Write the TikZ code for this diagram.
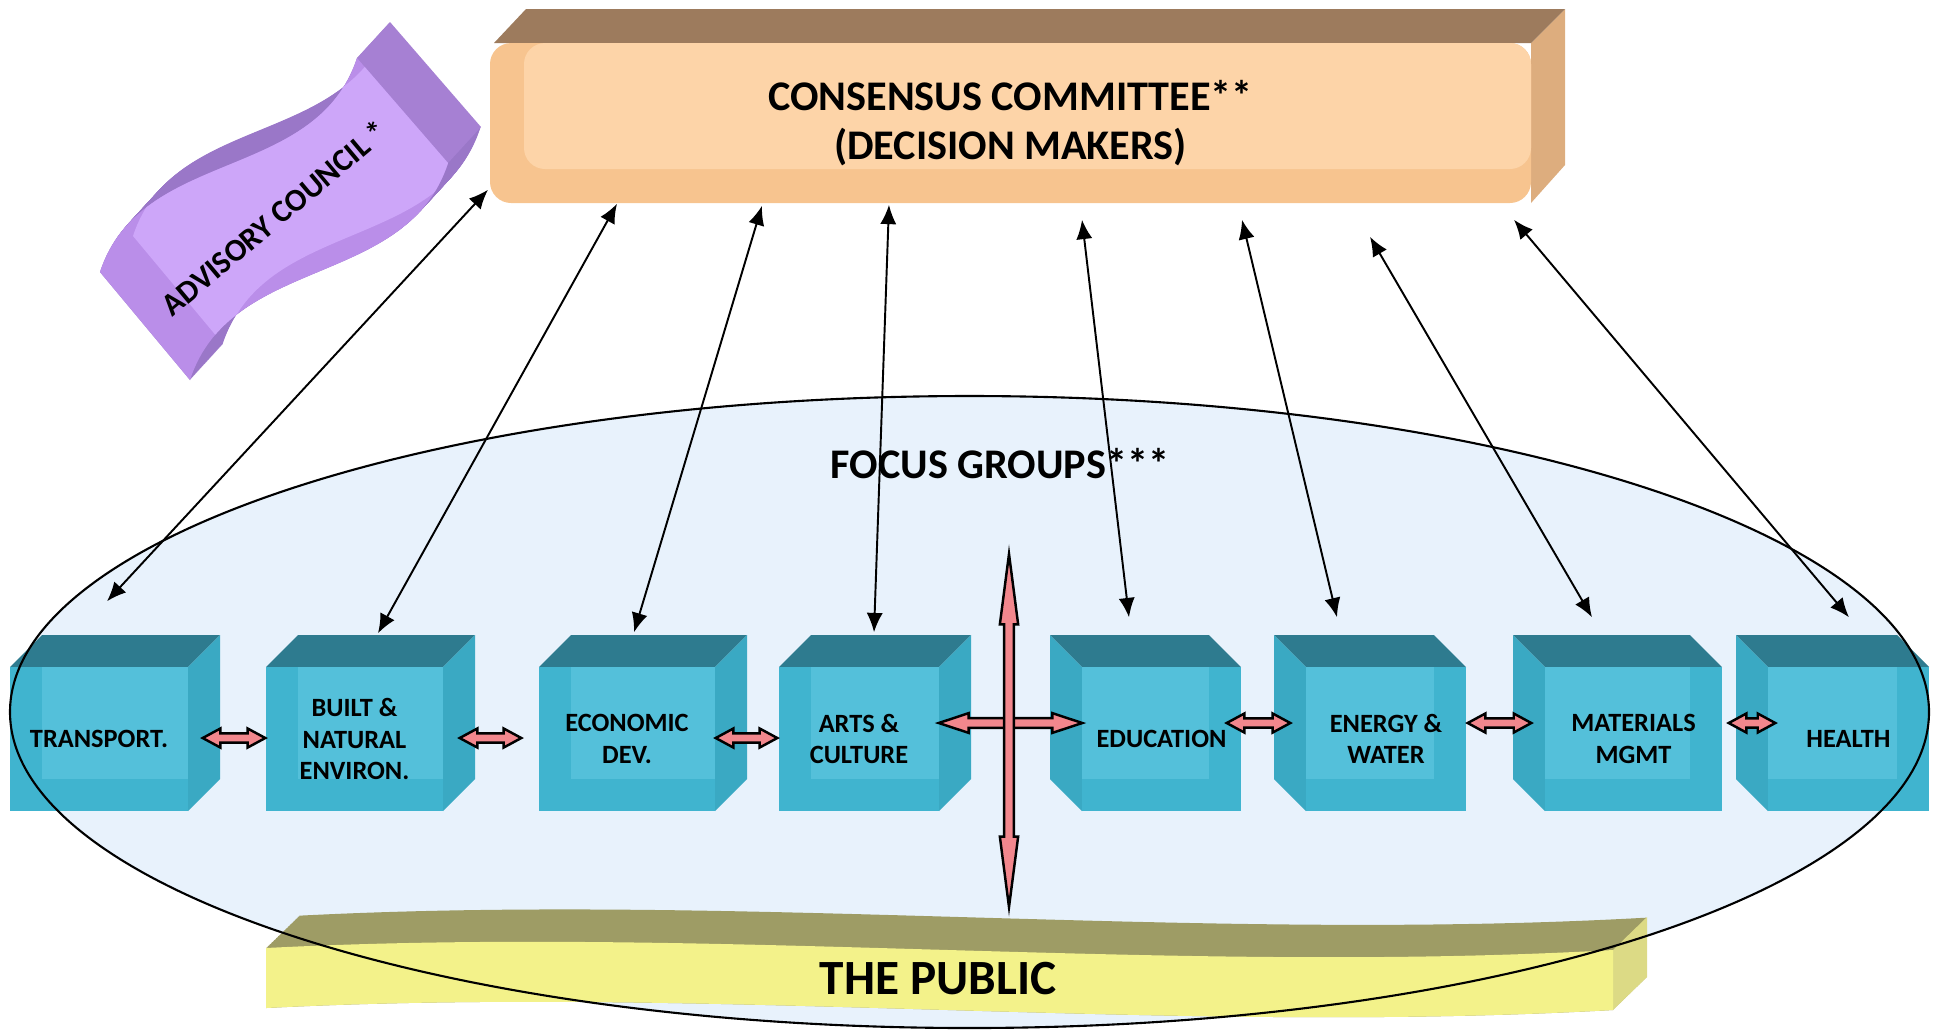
\documentclass[tikz,border=0pt]{standalone}
\usepackage{fontspec}
\setmainfont{Carlito}
\usetikzlibrary{arrows.meta}
\usetikzlibrary{calc}

\definecolor{focusblue}{HTML}{E8F2FC}
\definecolor{cctop}{HTML}{9D7B5D}
\definecolor{ccside}{HTML}{DDAD7E}
\definecolor{ccfront}{HTML}{F7C48F}
\definecolor{cclight}{HTML}{FDD4A8}
\definecolor{advside}{HTML}{9A77C8}
\definecolor{advend}{HTML}{A680D3}
\definecolor{advfront}{HTML}{BA8EE9}
\definecolor{advlight}{HTML}{CDA6F9}
\definecolor{pubtop}{HTML}{9E9C65}
\definecolor{pubend}{HTML}{DCDA85}
\definecolor{pubfront}{HTML}{F3F28A}
\definecolor{cubetop}{HTML}{2E7B8F}
\definecolor{cubeside}{HTML}{3AA9C3}
\definecolor{cubefront}{HTML}{40B4CF}
\definecolor{cubelight}{HTML}{54C0DA}
\definecolor{arrowpink}{HTML}{F2878D}

\newcommand\advpath{(100,272) .. controls (141,147) and (316,183) .. (357,58) -- (448,163) .. controls (407,289) and (231,254) .. (190,380) -- cycle}
\newcommand\pubpath{(266,948) .. controls (715,925) and (1165,975) .. (1613,950) -- (1613,1010) .. controls (1165,1035) and (715,985) .. (266,1008) -- cycle}

\newcommand\cubeblock[5]{%
  \pgfmathsetmacro\cubex{ifthenelse(#4>0,#3,#2)}
  \fill[cubetop] (#2,667) -- ({#2+#4},635) -- ({#3+#4},635) -- (#3,667) -- cycle;
  \fill[cubeside] (\cubex,667) -- ({\cubex+#4},635) -- ({\cubex+#4},779) -- (\cubex,811) -- cycle;
  \fill[cubefront] (#2,667) rectangle (#3,811);
  \fill[cubelight] ({#2+max(#4,0)},667) rectangle ({#3+min(#4,0)},779);
  \node[cubetext, minimum width={(#3-#2)*0.01cm}, minimum height=1.44cm] (#1) at ({(#2+#3)/2},739) {#5};}

\newcommand\fatarrow[5]{%
  \draw[pinkarrow] let \p1=(#1), \p2=(#2), \n1={atan2(\y2-\y1,\x2-\x1)} in
    (\p1) -- ($(\p1)+(\n1:#3)+({\n1+90}:#4)$) -- ($(\p1)+(\n1:#3)+({\n1+90}:#5)$)
    -- ($(\p2)+(\n1:-#3)+({\n1+90}:#5)$) -- ($(\p2)+(\n1:-#3)+({\n1+90}:#4)$) -- (\p2)
    -- ($(\p2)+(\n1:-#3)+({\n1-90}:#4)$) -- ($(\p2)+(\n1:-#3)+({\n1-90}:#5)$)
    -- ($(\p1)+(\n1:#3)+({\n1-90}:#5)$) -- ($(\p1)+(\n1:#3)+({\n1-90}:#4)$) -- cycle;}

\begin{document}
\begin{tikzpicture}[x=0.01cm, y=-0.01cm,
twoway/.style={{Latex[length=5.5pt,width=4.6pt]}-{Latex[length=5.5pt,width=4.6pt]},line width=.55pt},
pinkarrow/.style={draw=black,fill=arrowpink,line width=.7pt},
cubetext/.style={font=\bfseries\fontsize{7.5}{9}\selectfont,align=center,inner sep=0pt},
bigtext/.style={font=\bfseries\fontsize{12}{14}\selectfont,align=center}]

\useasboundingbox (0,0) rectangle (1939,1029);

\fill[focusblue] (969.5,712) ellipse [x radius=959.5, y radius=316];

% advisory council
\foreach \s in {0,.02,...,1} \fill[advside, shift={({33*\s},{-36*\s})}] \advpath;
\fill[advend] (357,58) -- (390,22) -- (481,127) -- (448,163) -- cycle;
\fill[advfront] \advpath;
\begin{scope}
\clip[shift={(33,-36)}] \advpath;
\fill[advlight] \advpath;
\end{scope}
\node[font=\bfseries\fontsize{9}{10}\selectfont, rotate=40] (ac) at (274,218) {ADVISORY COUNCIL *};

% consensus committee
\fill[ccside] (1531,43) -- (1565,9) -- (1565,165) -- (1531,203) -- cycle;
\fill[cctop] (494,43) -- (526,9) -- (1565,9) -- (1531,43) -- cycle;
\fill[ccfront, rounded corners=6pt] (490,43) rectangle (1531,203);
\fill[cclight, rounded corners=6pt] (524,43) rectangle (1531,169);
\node[bigtext, minimum width=10.41cm, minimum height=1.6cm] (cc) at (1010.5,123) {CONSENSUS COMMITTEE**\\(DECISION MAKERS)};

% the public
\foreach \s in {0,.02,...,1} \fill[pubtop, shift={({34*\s},{-33*\s})}] \pubpath;
\fill[pubend] (1613,950) -- (1647,917) -- (1647,977) -- (1613,1010) -- cycle;
\fill[pubfront] \pubpath;
\node[font=\bfseries\fontsize{14}{16}\selectfont] (pub) at (938,979) {THE PUBLIC};

\node[bigtext] (fg) at (1000,464) {FOCUS GROUPS***};

\cubeblock{tr}{10}{188}{32}{TRANSPORT.}
\cubeblock{bn}{266}{443}{32}{BUILT \&\\NATURAL\\ENVIRON.}
\cubeblock{ec}{539}{715}{32}{ECONOMIC\\DEV.}
\cubeblock{ar}{779}{939}{32}{ARTS \&\\CULTURE}
\cubeblock{ed}{1082}{1241}{-32}{EDUCATION}
\cubeblock{ew}{1306}{1466}{-32}{ENERGY \&\\WATER}
\cubeblock{mm}{1545}{1722}{-32}{MATERIALS\\MGMT}
\cubeblock{he}{1768}{1929}{-32}{HEALTH}

\draw[line width=.6pt] (969.5,712) ellipse [x radius=959.5, y radius=316];

\fatarrow{$(tr.east)+(14,-1)$}{$(bn.west)+(0,-1)$}{5pt}{2.7pt}{1.3pt}
\fatarrow{$(bn.east)+(16,-1)$}{$(ec.west)+(-17,-1)$}{5pt}{2.7pt}{1.3pt}
\fatarrow{$(ec.east)+(0,-1)$}{$(ar.west)+(-1,-1)$}{5pt}{2.7pt}{1.3pt}
\fatarrow{$(ar.east)+(-1,-16)$}{$(ed.west)+(1,-16)$}{8.5pt}{2.8pt}{1.4pt}
\coordinate (vtop) at (1009,554);
\coordinate (vbot) at (1009,907);
\fatarrow{vtop}{vbot}{20pt}{2.6pt}{1.4pt}
\fatarrow{$(ed.east)+(-15,-16)$}{$(ew.west)+(-15,-16)$}{5pt}{2.7pt}{1.3pt}
\fatarrow{$(ew.east)+(1,-16)$}{$(mm.west)+(-13,-16)$}{5pt}{2.7pt}{1.3pt}
\fatarrow{$(mm.east)+(6,-16)$}{$(he.west)+(8,-16)$}{5pt}{2.7pt}{1.3pt}

\draw[twoway] ($(cc.south west)+(-1,-14)$) -- ($(tr.north)+(8,-65)$);
\draw[twoway] ($(cc.south west)+(128,0)$) -- ($(bn.north)+(23.5,-33)$);
\draw[twoway] ($(cc.south west)+(273,2)$) -- ($(ec.north)+(7,-34)$);
\draw[twoway] ($(cc.south west)+(400,1)$) -- ($(ar.north)+(15,-34)$);
\draw[twoway] ($(cc.south west)+(593,16)$) -- ($(ed.north)+(-32.5,-49)$);
\draw[twoway] ($(cc.south west)+(753,16)$) -- ($(ew.north)+(-49,-49)$);
\draw[twoway] ($(cc.south west)+(881,33)$) -- ($(mm.north)+(-41.5,-49)$);
\draw[twoway] ($(cc.south west)+(1025,16)$) -- ($(he.north)+(0.5,-49)$);

\end{tikzpicture}
\end{document}
